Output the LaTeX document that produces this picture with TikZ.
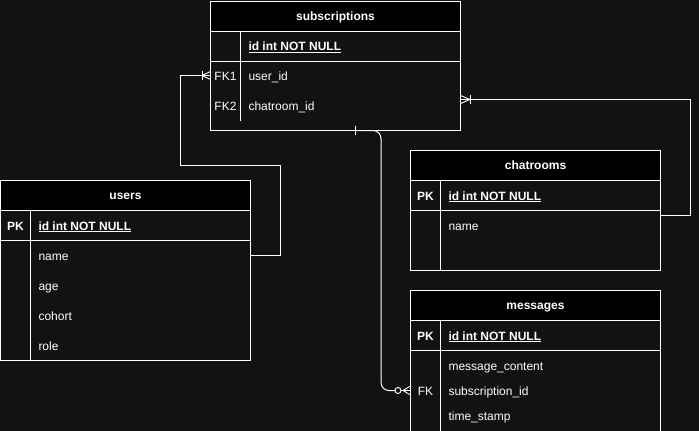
\documentclass[tikz,border=0pt]{standalone}
\usepackage{fontspec}
\setmainfont{Liberation Sans}
\usetikzlibrary{calc}
\definecolor{bg}{HTML}{121212}
\definecolor{bodyfill}{HTML}{121212}
\begin{document}
\begin{tikzpicture}[x=1pt,y=-1pt,line width=1pt,
  tbl/.style={draw=white,fill=bodyfill,anchor=north west,inner sep=0pt,outer sep=0pt,minimum width=250pt},
  hdr/.style={draw=white,fill=black,anchor=north west,minimum width=250pt,minimum height=30pt,inner sep=0pt,outer sep=0pt,text=white,font=\bfseries\fontsize{12}{14}\selectfont,text height=9.5pt,text depth=1.5pt},
  txt/.style={text=white,inner sep=0pt,text height=10pt,text depth=1pt},
  fld/.style={txt,anchor=west,font=\fontsize{12}{14}\selectfont},
  pkfld/.style={txt,anchor=west,font=\bfseries\fontsize{12}{14}\selectfont},
  keylbl/.style={txt,anchor=center,font=\fontsize{12}{14}\selectfont},
  pklbl/.style={txt,anchor=center,font=\bfseries\fontsize{12}{14}\selectfont},
  sep/.style={draw=white,line width=1pt},
  conn/.style={draw=white,line width=1pt},
  foot/.style={draw=white,line width=0.9pt}
]
\fill[bg] (0,0) rectangle (699,431);
\useasboundingbox (0,0) rectangle (699,431);
\clip (0,0) rectangle (699,431);

% ---------- subscriptions ----------
\node[tbl,minimum height=129pt] (subs) at (210.5,1.5) {};
\node[hdr] (subsH) at (210.5,1.5) {subscriptions};
\draw[sep] (210.5,61.5) -- (460.5,61.5);
\draw[sep] (240.5,31.5) -- (240.5,120.5);
\node[pkfld] (subsId) at (248,46) {\underline{id int NOT NULL}};
\node[keylbl] (subsFK1) at (225.5,75.5) {FK1};
\node[fld] (subsUid) at (248,75.5) {user\_id};
\node[keylbl] (subsFK2) at (225.5,105.5) {FK2};
\node[fld] (subsCid) at (248,105.5) {chatroom\_id};

% ---------- users ----------
\node[tbl,minimum height=180pt] (users) at (0.5,180.5) {};
\node[hdr] (usersH) at (0.5,180.5) {users};
\draw[sep] (0.5,240.5) -- (250.5,240.5);
\draw[sep] (30.5,210.5) -- (30.5,360.5);
\node[pklbl] (usersPK) at (15.5,225.5) {PK};
\node[pkfld] (usersId) at (38,225.5) {\underline{id int NOT NULL}};
\node[fld] (uName) at (38,255.5) {name};
\node[fld] (uAge) at (38,285.5) {age};
\node[fld] (uCohort) at (38,315.5) {cohort};
\node[fld] (uRole) at (38,345.5) {role};

% ---------- chatrooms ----------
\node[tbl,minimum height=120pt] (chat) at (410.5,150.5) {};
\node[hdr] (chatH) at (410.5,150.5) {chatrooms};
\draw[sep] (410.5,210.5) -- (660.5,210.5);
\draw[sep] (440.5,180.5) -- (440.5,270.5);
\node[pklbl] (chatPK) at (425.5,195.5) {PK};
\node[pkfld] (chatId) at (448,195.5) {\underline{id int NOT NULL}};
\node[fld] (chatName) at (448,225.5) {name};

% ---------- messages ----------
\node[tbl,minimum height=150pt] (msg) at (410.5,290.5) {};
\node[hdr] (msgH) at (410.5,290.5) {messages};
\draw[sep] (410.5,350.5) -- (660.5,350.5);
\draw[sep] (440.5,320.5) -- (440.5,445);
\node[pklbl] (msgPK) at (425.5,335.5) {PK};
\node[pkfld] (msgId) at (448,335.5) {\underline{id int NOT NULL}};
\node[fld] (msgContent) at (448,365.5) {message\_content};
\node[keylbl] (msgFK) at (425.5,390.5) {FK};
\node[fld] (msgSub) at (448,390.5) {subscription\_id};
\node[fld] (msgTime) at (448,415.5) {time\_stamp};

% ---------- connector: users -> subscriptions.user_id ----------
\coordinate (k1) at (280.5,165.5);
\coordinate (k2) at (180.5,75.5);
\draw[conn] (users.east |- uName) -| (k1) -| (k2) -- (subs.west |- subsUid);
\draw[foot] (202,71) -- (202,80);
\draw[foot] (202,75.5) -- (210.5,71.5) (202,75.5) -- (210.5,79.5);

% ---------- connector: chatrooms -> subscriptions.chatroom_id ----------
\coordinate (k3) at (690.5,99.5);
\draw[conn] ($(chat.east)+(0,5)$) -| (k3) -- (subs.east |- k3);
\draw[foot] (470,95) -- (470,104);
\draw[foot] (470,99.5) -- (460.5,95.5) (470,99.5) -- (460.5,103.5);

% ---------- connector: subscriptions -> messages.subscription_id ----------
\coordinate (s3) at ($(subs.south west)+(145,0)$);
\coordinate (k4) at (381,390.5);
\draw[conn,rounded corners=8pt] (s3) -| (k4) -- (395,390.5);
\draw[foot] (355,126) -- (355,134.5);
\draw[foot] (398,390.5) circle[radius=3pt];
\draw[foot] (401,390.5) -- (410.5,390.5);
\draw[foot] (403,390.5) -- (410.5,386) (403,390.5) -- (410.5,395);
\end{tikzpicture}
\end{document}
